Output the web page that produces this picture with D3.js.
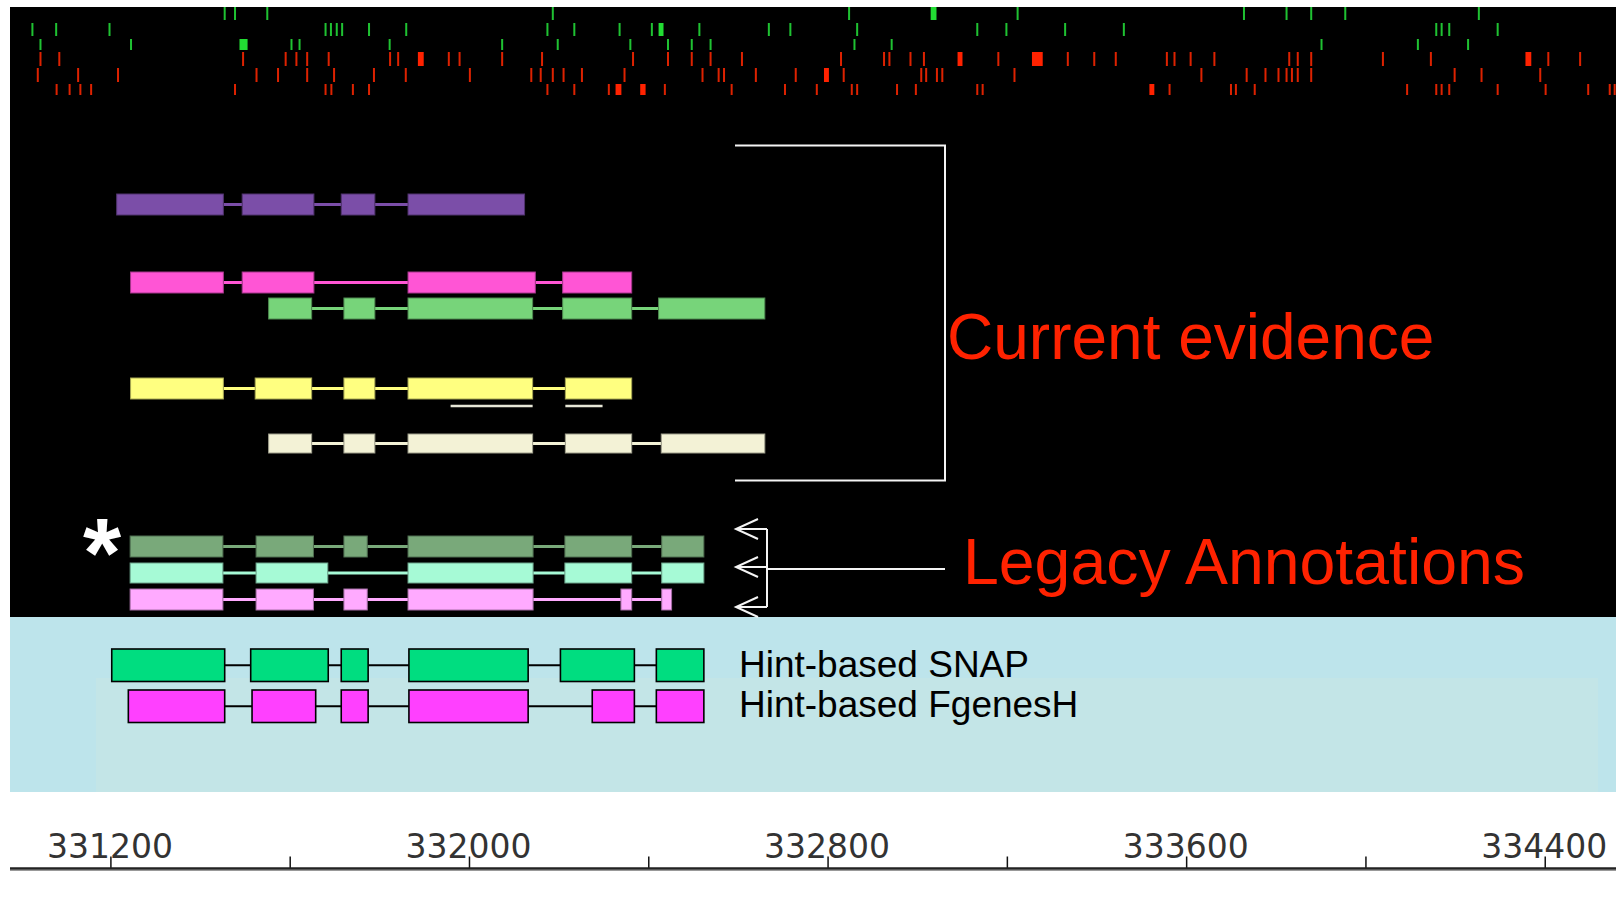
<!DOCTYPE html>
<html><head><meta charset="utf-8">
<script src="https://cdn.jsdelivr.net/npm/d3@7/dist/d3.min.js"></script>
<style>body{margin:0;background:#fff}svg{display:block}</style>
</head><body><svg id="c" width="1616" height="914"></svg>
<script>
// ---------------- DATA ----------------
const genomeDomain = [330976, 334559];
const axisMajorTicks = [331200, 332000, 332800, 333600, 334400];
const axisMinorTicks = [331600, 332400, 333200, 334000];

// feature tick rows (single positions, or [start,end] for wider blocks)
const featGreenA = [331455,331478,331550,332187,332848,[333030,333043],333224,333729,333824,333879,333955,334253];
const featGreenB = [331026,331079,331198,331680,331692,331705,331717,331777,331860,332175,332235,332336,332408,[332423,332434],332514,332669,332717,332866,333134,333199,333330,333461,334158,334170,334187,334295];
const featGreenC = [331044,331246,[331488,331506],331604,331622,331823,332074,332198,332360,332444,332497,332539,332860,332943,333902,334117,334229];
const featRedD = [331044,331086,331496,331591,331615,331639,331687,331824,331842,[331886,331899],331955,331979,332074,332163,332366,332444,332497,332539,332609,332830,332926,332938,332985,333015,[333090,333101],333181,[333256,333280],333336,333395,333443,333557,333574,333610,333663,333830,333849,333879,334039,334146,[334357,334370],334408,334479];
const featRedE = [331038,331128,331217,331526,331574,331639,331699,331788,331859,332002,332139,332160,332187,332211,332252,332347,332521,332557,332569,332640,332729,[332792,332803],332836,333009,333020,333044,333056,333217,333634,333735,333777,333806,333824,333836,333849,333879,334199,334259,334390];
const featRedF = [331080,331109,331133,331157,331478,331680,331693,331741,331777,332175,332235,332312,[332327,332340],[332382,332394],332437,332586,332705,332776,332854,332866,332955,332997,333134,333146,[333518,333529],333563,333700,333711,333753,334093,334158,334170,334187,334295,334402,334497,334545,334556];

// gene models: exon [start, end]
const purpleModel   = [[331214,331452],[331494,331654],[331715,331790],[331864,332124]];
const pinkModel     = [[331245,331452],[331494,331654],[331864,332148],[332209,332363]];
const greenModel    = [[331553,331649],[331721,331790],[331864,332142],[332209,332363],[332423,332660]];
const yellowModel   = [[331245,331452],[331523,331649],[331721,331790],[331864,332142],[332215,332363]];
const yellowSupport = [[331959,332142],[332215,332298]];
const creamModel    = [[331553,331649],[331721,331790],[331864,332142],[332215,332363],[332429,332660]];
const legacyDarkGreen = [[331244,331451],[331525,331653],[331721,331773],[331864,332143],[332214,332363],[332430,332524]];
const legacyMint      = [[331244,331451],[331525,331685],[331864,332143],[332214,332363],[332430,332524]];
const legacyPink      = [[331244,331451],[331525,331653],[331721,331773],[331864,332143],[332339,332363],[332430,332452]];
const snapModel     = [[331203,331455],[331513,331686],[331715,331775],[331866,332132],[332204,332369],[332418,332524]];
const fgenesModel   = [[331240,331455],[331516,331658],[331715,331775],[331866,332132],[332275,332369],[332418,332524]];

const labelCurrent = "Current evidence";
const labelLegacy = "Legacy Annotations";
const labelSnap = "Hint-based SNAP";
const labelFgenes = "Hint-based FgenesH";

// ---------------- DRAW ----------------
const svg = d3.select("#c");
const W = 1616;
const x = d3.scaleLinear().domain(genomeDomain).range([10, W]);

// panels
svg.append("rect").attr("x",10).attr("y",7).attr("width",W-10).attr("height",610).attr("fill","#000");
svg.append("rect").attr("x",10).attr("y",617).attr("width",W-10).attr("height",175).attr("fill","#bde4eb");
svg.append("rect").attr("x",96).attr("y",678).attr("width",1502).attr("height",114).attr("fill","#c3e5e7");

// feature rows
const featRows = [
  {d: featGreenA, y: 7,  h: 13, c: "#1fc232", w: "#22dd33"},
  {d: featGreenB, y: 23, h: 13, c: "#1fc232", w: "#22dd33"},
  {d: featGreenC, y: 39, h: 11, c: "#1fc232", w: "#22dd33"},
  {d: featRedD,   y: 52, h: 14, c: "#dd2200", w: "#ff2200"},
  {d: featRedE,   y: 68, h: 14, c: "#dd2200", w: "#ff2200"},
  {d: featRedF,   y: 84, h: 11, c: "#dd2200", w: "#ff2200"}
];
featRows.forEach(r => {
  svg.append("g").selectAll("rect").data(r.d).join("rect")
    .attr("x", d => Array.isArray(d) ? x(d[0]) : x(d) - 1)
    .attr("width", d => Array.isArray(d) ? x(d[1]) - x(d[0]) : 2)
    .attr("y", r.y).attr("height", r.h)
    .attr("fill", d => Array.isArray(d) ? r.w : r.c);
});

// gene tracks
const tracks = [
  {d: purpleModel, y: 194, h: 21, fill: "#7b4ea8"},
  {d: pinkModel, y: 272, h: 21, fill: "#ff55d5"},
  {d: greenModel, y: 298, h: 21, fill: "#77d47a"},
  {d: yellowModel, y: 378, h: 21, fill: "#ffff80"},
  {d: creamModel, y: 434, h: 19, fill: "#f3f2d6"},
  {d: legacyDarkGreen, y: 536, h: 21, fill: "#79a97a"},
  {d: legacyMint, y: 563, h: 20, fill: "#a6fad6"},
  {d: legacyPink, y: 589, h: 21, fill: "#ffaaff"},
  {d: snapModel, y: 649, h: 32.5, fill: "#00dd80", outline: "#000", iw: 2},
  {d: fgenesModel, y: 690, h: 32.5, fill: "#ff40ff", outline: "#000", iw: 2}
];
tracks.forEach(t => {
  const g = svg.append("g");
  const cy = t.y + t.h / 2;
  const introns = d3.pairs(t.d);
  g.selectAll("line").data(introns).join("line")
    .attr("x1", d => x(d[0][1])).attr("x2", d => x(d[1][0]))
    .attr("y1", cy).attr("y2", cy)
    .attr("stroke", t.outline || t.fill).attr("stroke-width", t.iw || 3);
  g.selectAll("rect").data(t.d).join("rect")
    .attr("x", d => x(d[0])).attr("width", d => x(d[1]) - x(d[0]))
    .attr("y", t.y).attr("height", t.h)
    .attr("fill", t.fill)
    .attr("stroke", t.outline || d3.color(t.fill).darker(1.2))
    .attr("stroke-width", t.outline ? 1.6 : 1);
});
// support lines under yellow
svg.append("g").selectAll("line").data(yellowSupport).join("line")
  .attr("x1", d => x(d[0])).attr("x2", d => x(d[1]))
  .attr("y1", 406).attr("y2", 406)
  .attr("stroke", "#e6e6d6").attr("stroke-width", 2.5);

// bracket for current evidence
svg.append("path").attr("d", "M735,145.5H945V480.5H735")
  .attr("fill","none").attr("stroke","#f4f4f4").attr("stroke-width",2);

// legacy arrows
const arrowYs = [529, 567, 607];
const ag = svg.append("g").attr("fill","none").attr("stroke","#f4f4f4").attr("stroke-width",2);
arrowYs.forEach(y => {
  ag.append("path").attr("d", `M758,${y-10}L736,${y}L758,${y+10}M736,${y}H767`);
});
ag.append("path").attr("d", "M767,529V607M767,569H945");

// labels
svg.append("text").attr("x",947).attr("y",359).text(labelCurrent)
  .attr("font-family","Liberation Sans, Arial, sans-serif").attr("font-size",64).attr("fill","#ff2200");
svg.append("text").attr("x",963).attr("y",584).text(labelLegacy)
  .attr("font-family","Liberation Sans, Arial, sans-serif").attr("font-size",64.4).attr("fill","#ff2200");
svg.append("text").attr("x",739).attr("y",677).text(labelSnap)
  .attr("font-family","Liberation Sans, Arial, sans-serif").attr("font-size",37).attr("fill","#000");
svg.append("text").attr("x",739).attr("y",717).text(labelFgenes)
  .attr("font-family","Liberation Sans, Arial, sans-serif").attr("font-size",37).attr("fill","#000");
svg.append("text").attr("x",83).attr("y",587).text("*")
  .attr("font-family","Liberation Sans, Arial, sans-serif").attr("font-weight","bold").attr("font-size",98).attr("fill","#fff");

// axis
const axisY = 868.5;
const axis = d3.axisTop(x)
  .tickValues(axisMajorTicks.concat(axisMinorTicks).sort(d3.ascending))
  .tickSize(12).tickPadding(-1.5)
  .tickFormat(d => axisMajorTicks.includes(d) ? String(d) : "");
const ax = svg.append("g").attr("transform", `translate(0,${axisY})`).call(axis);
ax.select(".domain").remove();
ax.selectAll(".tick line").attr("stroke","#111").attr("stroke-width",1.5);
ax.selectAll(".tick text")
  .attr("font-family","DejaVu Sans, sans-serif")
  .attr("font-size",33).attr("fill","#333").attr("dx", -1);
ax.selectAll(".tick").each(function(){ d3.select(this).select("text").lower(); });
svg.append("line").attr("x1",10).attr("x2",W).attr("y1",axisY).attr("y2",axisY)
  .attr("stroke","#222").attr("stroke-width",2.5);
svg.append("line").attr("x1",10).attr("x2",W).attr("y1",axisY+2).attr("y2",axisY+2)
  .attr("stroke","#999").attr("stroke-width",1);
</script>
</body></html>
